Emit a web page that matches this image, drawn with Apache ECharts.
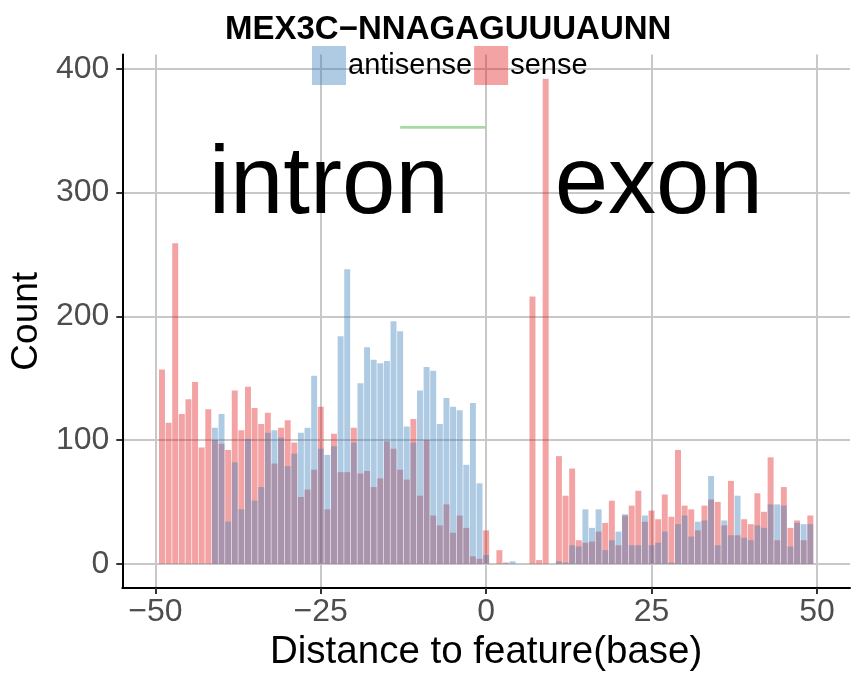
<!DOCTYPE html>
<html>
<head>
<meta charset="utf-8">
<script src="https://cdn.jsdelivr.net/npm/echarts@6/dist/echarts.min.js"></script>
<style>
html,body{margin:0;padding:0;background:#fff;}
#chart{width:864px;height:677px;}
</style>
</head>
<body>
<div id="chart"></div>
<script>
// Distance to feature (base), one bar per position
const positions = [];
for (let p = -49; p <= 49; p++) positions.push(p);

const senseCounts = [
  157,114,259,121,133,147,94,125,100,97,
  92,140,108,143,126,113,122,81,110,116,
  98,54,60,76,127,44,105,74,74,110,
  73,75,62,69,99,93,76,68,117,55,
  100,39,31,48,25,39,29,6,4,27,
  0,11,1,0,0,0,216,3,392,0,
  87,55,77,19,17,18,26,33,51,15,
  39,47,59,34,43,36,56,38,92,47,
  44,27,47,52,50,31,67,23,36,32,
  57,42,86,19,62,29,35,19,39
];
const antisenseCounts = [
  0,0,0,0,0,0,0,0,110,121,
  34,82,44,101,51,62,106,108,102,79,
  89,106,110,152,93,88,95,184,238,98,
  146,175,165,162,164,196,188,111,98,140,
  159,156,113,134,127,124,80,130,65,7,
  0,0,0,2,0,0,0,0,0,0,
  2,1,15,14,44,29,44,11,19,26,
  40,15,15,39,15,17,26,1,32,39,
  22,34,35,71,15,35,23,55,21,19,
  31,29,48,48,47,14,33,32,32
];
const xTicks = [-50, -25, 0, 25, 50];
const yTicks = [0, 100, 200, 300, 400];
const regionLabels = [[-23.8, 305, 'intron'], [26.1, 305, 'exon']];
const greenSegment = [[-13, 352.8], [0, 352.8]];

const FONT = "'Liberation Sans', Arial, Helvetica, sans-serif";
const chart = echarts.init(document.getElementById('chart'), null, {renderer: 'canvas'});

const senseData = positions.map((p, i) => [p, senseCounts[i]]);
const antisenseData = positions.map((p, i) => [p, antisenseCounts[i]]);

chart.setOption({
  animation: false,
  backgroundColor: '#ffffff',
  title: {
    text: 'MEX3C\u2212NNAGAGUUUAUNN',
    left: 225,
    top: 13,
    padding: 0,
    textStyle: {fontFamily: FONT, fontSize: 33, fontWeight: 'bold', color: '#000'}
  },
  legend: {
    data: ['antisense', 'sense'],
    left: 312,
    top: 46,
    padding: 0,
    icon: 'rect',
    itemWidth: 34,
    itemHeight: 39,
    itemGap: 2,
    selectedMode: false,
    textStyle: {fontFamily: FONT, fontSize: 29, color: '#000', padding: [0, 0, 0, -3]}
  },
  grid: {left: 121, right: 14, top: 54.6, bottom: 87.5, containLabel: false},
  xAxis: {
    type: 'value',
    min: -55,
    max: 55,
    name: 'Distance to feature(base)',
    nameLocation: 'middle',
    nameGap: 45,
    nameTextStyle: {fontFamily: FONT, fontSize: 38.5, color: '#000'},
    axisLine: {show: true, onZero: false, lineStyle: {color: '#000', width: 2}},
    axisTick: {show: true, length: 6, customValues: xTicks, lineStyle: {color: '#333', width: 2}},
    axisLabel: {
      customValues: xTicks,
      margin: 8,
      fontFamily: FONT, fontSize: 32, color: '#4d4d4d',
      formatter: v => (v < 0 ? '\u2212' + Math.abs(v) : String(v))
    },
    splitLine: {show: true, lineStyle: {color: '#c8c8c8', width: 2}}
  },
  yAxis: {
    type: 'value',
    min: -19.6,
    max: 411.6,
    name: 'Count',
    nameLocation: 'middle',
    nameGap: 73,
    nameTextStyle: {fontFamily: FONT, fontSize: 37, color: '#000'},
    axisLine: {show: true, onZero: false, lineStyle: {color: '#000', width: 2}},
    axisTick: {show: true, length: 6, customValues: yTicks, lineStyle: {color: '#333', width: 2}},
    axisLabel: {
      customValues: yTicks,
      margin: 13,
      fontFamily: FONT, fontSize: 32, color: '#4d4d4d'
    },
    splitLine: {show: true, lineStyle: {color: '#c8c8c8', width: 2}}
  },
  series: [
    {
      name: 'sense',
      type: 'bar',
      data: senseData,
      barWidth: 5.96,
      barGap: '-100%',
      itemStyle: {color: 'rgba(228,26,28,0.4)'},
      z: 2
    },
    {
      name: 'antisense',
      type: 'bar',
      data: antisenseData,
      barWidth: 5.96,
      barGap: '-100%',
      itemStyle: {color: 'rgba(55,126,184,0.4)'},
      z: 3
    },
    {
      name: 'segment',
      type: 'line',
      data: greenSegment,
      symbol: 'none',
      lineStyle: {color: '#a6dba0', width: 2.7},
      z: 4
    },
    {
      name: 'regions',
      type: 'scatter',
      data: regionLabels,
      symbolSize: 0,
      itemStyle: {opacity: 1},
      label: {
        show: true,
        position: 'inside',
        formatter: p => p.data[2],
        fontFamily: FONT,
        fontSize: 96,
        color: '#000',
        opacity: 1,
        textBorderWidth: 0
      },
      z: 5
    }
  ]
});
</script>
</body>
</html>
